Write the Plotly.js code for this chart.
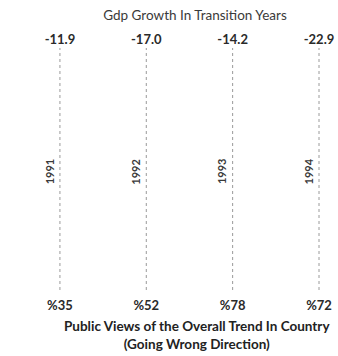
<!DOCTYPE html>
<html>
<head>
<meta charset="utf-8">
<script src="https://cdn.plot.ly/plotly-3.0.1.min.js"></script>
<style>html,body{margin:0;padding:0;background:#fff;}#chart{width:338px;height:356px;}</style>
</head>
<body>
<div id="chart"></div>
<script>
// ---- data ----
var years = ['1991', '1992', '1993', '1994'];
var gdpGrowth = [-11.9, -17.0, -14.2, -22.9];
var wrongDirection = [35, 52, 78, 72];
var titleTop = 'Gdp Growth In Transition Years';
var titleBottom = 'Public Views of the Overall Trend In Country<br>(Going Wrong Direction)';

var FONT = 'Lato, "Open Sans", sans-serif';

// vertical dotted guide lines, one per year (span the full y domain)
var lx = [], ly = [];
years.forEach(function (y) { lx.push(y, y, null); ly.push(0, 1, null); });

var lines = {
  type: 'scatter', mode: 'lines', x: lx, y: ly, xaxis: 'x', yaxis: 'y',
  line: {color: '#9a9a9a', width: 1, dash: 'dot'},
  hoverinfo: 'skip', showlegend: false
};
var topHelper = {
  type: 'scatter', mode: 'lines', x: lx, y: ly, xaxis: 'x2', yaxis: 'y',
  line: {color: 'rgba(0,0,0,0)', width: 0}, hoverinfo: 'skip', showlegend: false
};

var xr = [-0.694, 3.22];
var layout = {
  width: 338, height: 356,
  margin: {l: 0, r: 0, t: 48, b: 66},
  paper_bgcolor: '#ffffff', plot_bgcolor: '#ffffff',
  showlegend: false,
  font: {family: FONT, color: '#2a2a2a'},
  title: {
    text: titleTop, x: 195 / 338, xanchor: 'center', xref: 'paper',
    y: 1 - 15 / 356, yanchor: 'middle', yref: 'container',
    font: {family: FONT, size: 13.5, color: '#3a3a3a'}
  },
  xaxis: {
    type: 'category', categoryorder: 'array', categoryarray: years,
    range: xr, showgrid: false, zeroline: false, showline: false, ticks: '',
    tickvals: years, ticktext: wrongDirection.map(function (v) { return '%' + v; }),
    tickfont: {family: FONT, size: 13, color: '#2a2a2a', weight: 'bold'},
    ticklabelstandoff: 6, fixedrange: true
  },
  xaxis2: {
    type: 'category', categoryorder: 'array', categoryarray: years,
    overlaying: 'x', side: 'top', range: xr,
    showgrid: false, zeroline: false, showline: false, ticks: '',
    tickvals: years, ticktext: gdpGrowth.map(function (v) { return v.toFixed(1); }),
    tickfont: {family: FONT, size: 13, color: '#2a2a2a', weight: 'bold'},
    ticklabelstandoff: 0, fixedrange: true
  },
  yaxis: {range: [0, 1], visible: false, fixedrange: true},
  annotations: years.map(function (y, i) {
    return {
      x: i, xref: 'x', y: 0.49, yref: 'paper', text: y, showarrow: false,
      textangle: -90, xshift: -11, xanchor: 'center', yanchor: 'middle',
      font: {family: FONT, size: 11, color: '#3a3a3a', weight: 'bold'}
    };
  }).concat([{
    x: 197 / 338, xref: 'paper', y: -0.184, yref: 'paper', text: titleBottom,
    showarrow: false, xanchor: 'center', yanchor: 'middle', align: 'center',
    font: {family: FONT, size: 13.5, color: '#222222', weight: 'bold'}
  }])
};

Plotly.newPlot('chart', [lines, topHelper], layout, {displayModeBar: false, staticPlot: true});
</script>
</body>
</html>
